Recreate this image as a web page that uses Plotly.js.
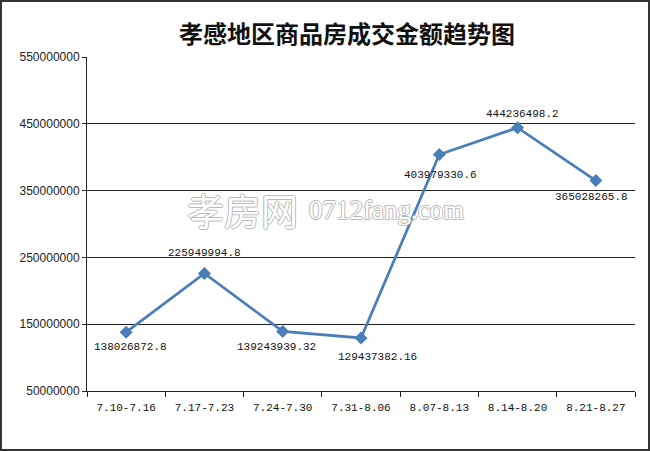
<!DOCTYPE html>
<html>
<head>
<meta charset="utf-8">
<script src="https://cdn.plot.ly/plotly-3.0.1.min.js"></script>
<style>
html,body{margin:0;padding:0;background:#fff;}
#chart{width:650px;height:451px;box-sizing:border-box;border:2px solid #333;}
</style>
</head>
<body>
<div id="chart"></div>
<script>
const categories = ["7.10-7.16","7.17-7.23","7.24-7.30","7.31-8.06","8.07-8.13","8.14-8.20","8.21-8.27"];
const amounts = [138026872.8, 225949994.8, 139243939.32, 129437382.16, 403979330.6, 444236498.2, 365028265.8];
const labels = ["138026872.8","225949994.8","139243939.32","129437382.16","403979330.6","444236498.2","365028265.8"];

// label offsets in pixels (style only)
const labelDx = [4, 0, -6, 16, 1, 5, -4];
const labelDy = [-15, 20, -16, -19, -20, 14, -16];

const trace = {
  x: categories,
  y: amounts,
  type: "scatter",
  mode: "lines+markers",
  line: {color: "#4A7EBB", width: 2.75},
  marker: {symbol: "diamond", size: 10, color: "#4A7EBB"},
  cliponaxis: false,
  hoverinfo: "x+y"
};

const valueLabels = categories.map((c, i) => ({
  x: c, y: amounts[i], xref: "x", yref: "y",
  text: labels[i], showarrow: false,
  xanchor: "center", yanchor: "middle",
  xshift: labelDx[i], yshift: labelDy[i],
  font: {family: "Liberation Mono, monospace", size: 11, color: "#111"}
}));

const outline = "1px 0 0 #b8b8b8, -1px 0 0 #b8b8b8, 0 1px 0 #b8b8b8, 0 -1px 0 #b8b8b8";
const watermark = [
  {xref: "paper", yref: "paper", x: 0.283, y: 0.542, xanchor: "center", yanchor: "middle",
   text: "孝房网", showarrow: false,
   font: {family: "Noto Sans CJK SC, sans-serif", size: 37, color: "#ffffff", shadow: outline}},
  {xref: "paper", yref: "paper", x: 0.547, y: 0.542, xanchor: "center", yanchor: "middle",
   text: "0712fang.com", showarrow: false,
   font: {family: "Liberation Serif, serif", size: 27, color: "#ffffff", shadow: outline}}
];

const layout = {
  width: 646, height: 447,
  margin: {l: 85, r: 13, t: 55, b: 58},
  paper_bgcolor: "#fff", plot_bgcolor: "#fff",
  showlegend: false,
  title: {text: "孝感地区商品房成交金额趋势图", x: 0.534, xanchor: "center", y: 0.926, yanchor: "middle",
    font: {family: "Noto Sans CJK SC, sans-serif", size: 24, color: "#111", weight: 700}},
  xaxis: {
    type: "category",
    tickson: "boundaries",
    ticks: "outside", ticklen: 5, tickcolor: "#222",
    showline: true, linecolor: "#222", linewidth: 1,
    showgrid: false,
    ticklabelstandoff: 6,
    tickfont: {family: "Liberation Mono, monospace", size: 11, color: "#111"},
    range: [-0.5, 6.5]
  },
  yaxis: {
    range: [50000000, 550000000],
    tick0: 50000000, dtick: 100000000,
    tickformat: "d",
    ticks: "outside", ticklen: 4, tickcolor: "#222",
    showline: true, linecolor: "#222", linewidth: 1,
    showgrid: true, gridcolor: "#222", gridwidth: 1,
    zeroline: false,
    tickfont: {family: "Liberation Sans, Arial, sans-serif", size: 12, color: "#222"}
  },
  annotations: watermark.concat(valueLabels)
};

Plotly.newPlot("chart", [trace], layout, {displayModeBar: false, staticPlot: true});
</script>
</body>
</html>
